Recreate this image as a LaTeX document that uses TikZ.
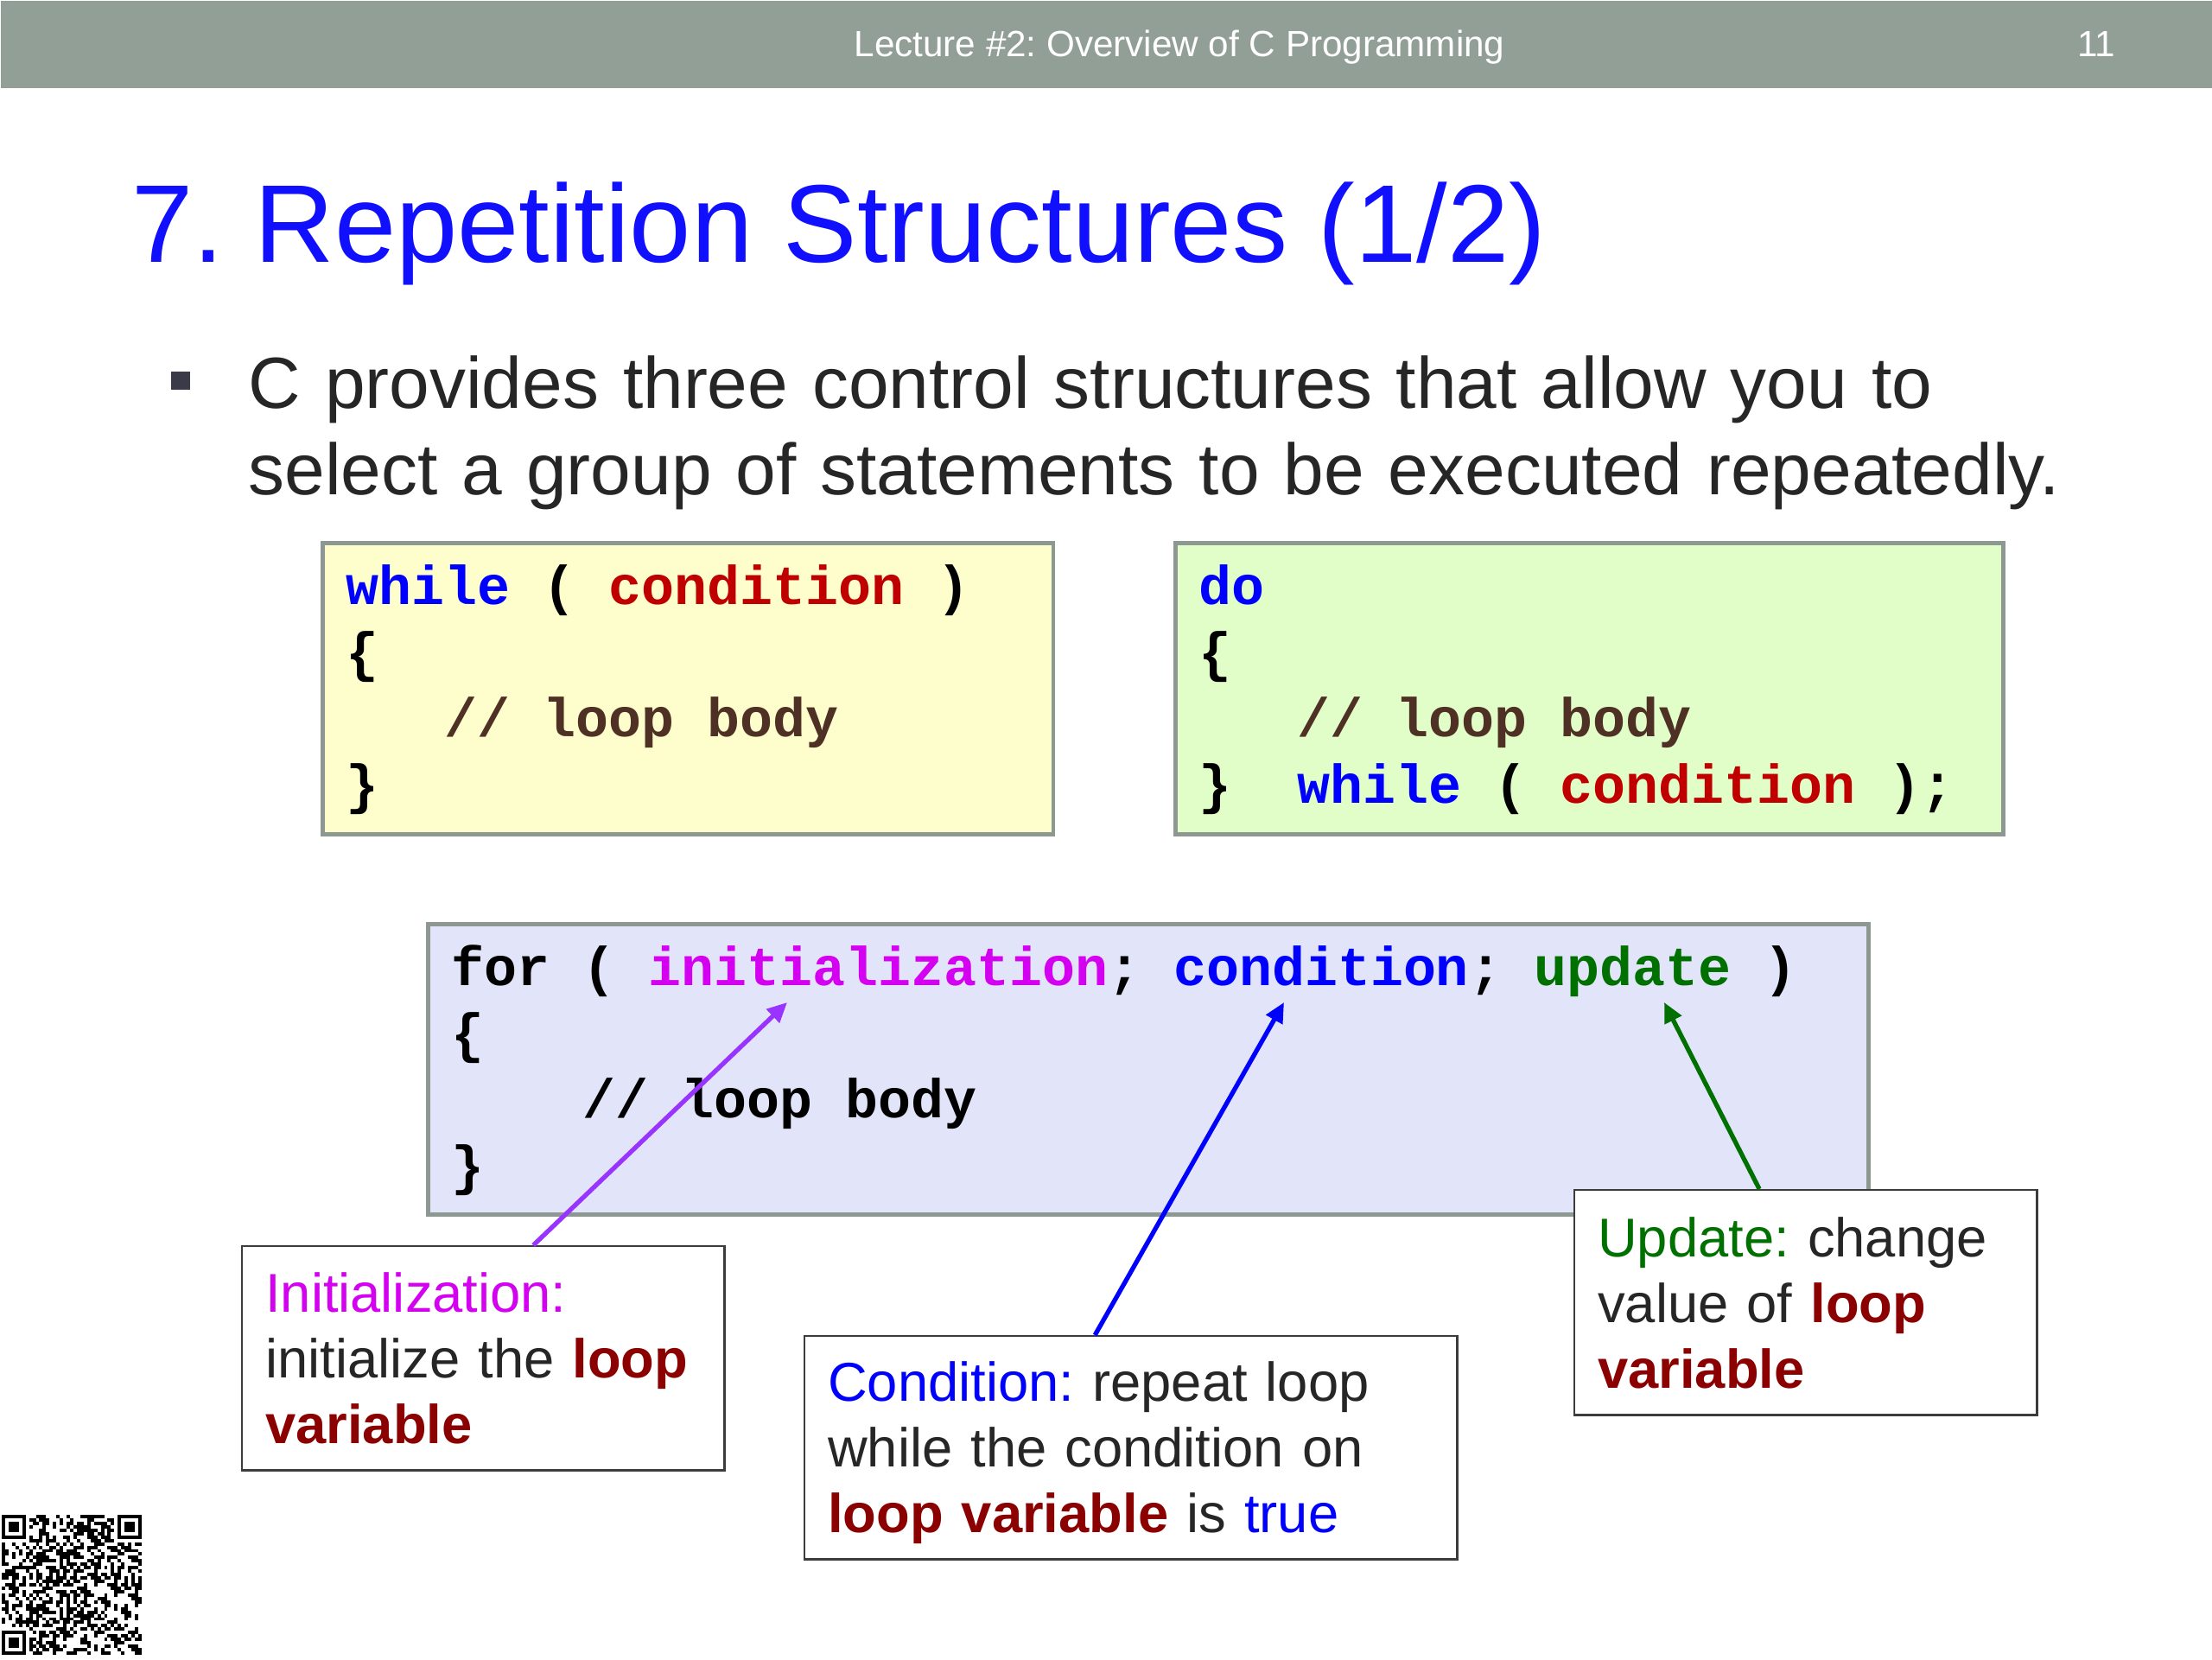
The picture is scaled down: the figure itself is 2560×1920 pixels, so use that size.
\documentclass[tikz,border=0pt]{standalone}
\usepackage{fontspec}
\setmainfont{Liberation Sans}
\setmonofont{Liberation Mono}
\usepackage{xcolor}
\usetikzlibrary{arrows.meta}
\frenchspacing

\definecolor{barGray}{HTML}{929F97}
\definecolor{titleBlue}{HTML}{1010FF}
\definecolor{bodyGray}{HTML}{262626}
\definecolor{bulletGray}{HTML}{3A3A48}
\definecolor{frameGray}{HTML}{8E9892}
\definecolor{noteGray}{HTML}{3C3C3C}
\definecolor{whileFill}{HTML}{FEFECC}
\definecolor{doFill}{HTML}{E2FEC8}
\definecolor{forFill}{HTML}{E2E5FA}
\definecolor{kwBlue}{HTML}{0000FF}
\definecolor{condRed}{HTML}{C00000}
\definecolor{commentBrown}{HTML}{4E3024}
\definecolor{initMagenta}{HTML}{D400F0}
\definecolor{updGreen}{HTML}{007000}
\definecolor{varRed}{HTML}{8B0000}
\definecolor{arrowPurple}{HTML}{9933FF}

\newcommand\ws{\hspace*{0.6em}}

\begin{document}
\begin{tikzpicture}[x=0.01cm, y=-0.01cm, >={Triangle[length=0.23cm, width=0.21cm]},
      codebox/.style={draw=frameGray, line width=1.4pt, anchor=north west, inner xsep=0.27cm,
        inner ysep=0pt, align=left, text height=0.71cm, text=black,
        font=\fontsize{18}{21.8}\selectfont\ttfamily\bfseries},
      notebox/.style={draw=noteGray, fill=white, line width=0.7pt, anchor=north west,
        inner xsep=0.27cm, inner ysep=0pt, align=left, text depth=1.83cm, text=bodyGray,
        font=\fontsize{18}{21.6}\selectfont},
      pointer/.style={->, line width=1.5pt}]
    \useasboundingbox (0,0) rectangle (2560,1920);
    \node[fill=barGray, anchor=north west, inner sep=0, minimum width=25.6cm, minimum height=1.01cm] (bar) at (0,0) {};
    \node[anchor=base, text=white, font=\fontsize{12}{14}\selectfont] (lecture) at (1365,65) {Lecture \#2: Overview of C Programming};
    \node[anchor=base, text=white, font=\fontsize{12}{14}\selectfont] (pageno) at (2426,65) {11};
    \node[anchor=base west, inner sep=0, text=titleBlue, font=\fontsize{36.4}{43}\selectfont] (title) at (152,303) {7. Repetition Structures (1/2)};
    \node[fill=bulletGray, inner sep=0, minimum size=0.21cm] (bullet) at (209,440) {};
    \node[anchor=base west, inner sep=0, text width=22.5cm, align=left, text=bodyGray, font=\fontsize{23.85}{28.5}\selectfont] (intro) at (287,472)
      {C provides three control structures that allow you to\\select a group of statements to be executed repeatedly.};

    \node[codebox, fill=whileFill, text width=7.91cm, text depth=2.66cm] (whilebox) at (371,626)
      {\textcolor{kwBlue}{while}\ws(\ws\textcolor{condRed}{condition}\ws)\\\{\\\ws\ws\ws\textcolor{commentBrown}{//\ws loop\ws body}\\\}};
    \node[codebox, fill=doFill, text width=9.03cm, text depth=2.66cm] (dobox) at (1358,626)
      {\textcolor{kwBlue}{do}\\\{\\\ws\ws\ws\textcolor{commentBrown}{//\ws loop\ws body}\\\}\ws\ws\textcolor{kwBlue}{while}\ws(\ws\textcolor{condRed}{condition}\ws);};
    \node[codebox, fill=forFill, text width=16.12cm, text depth=2.65cm] (forbox) at (493,1067)
      {for\ws(\ws\textcolor{initMagenta}{initialization};\ws\textcolor{kwBlue}{condition};\ws\textcolor{updGreen}{update}\ws)\\\{\\\ws\ws\ws\ws//\ws loop\ws body\\\}};

    \node[notebox, text width=5.04cm, text height=0.76cm] (initnote) at (279,1441)
      {\textcolor{initMagenta}{Initialization:}\\initialize the \textbf{\textcolor{varRed}{loop}}\\\textbf{\textcolor{varRed}{variable}}};
    \node[notebox, text width=7.01cm, text height=0.75cm] (condnote) at (930,1545)
      {\textcolor{kwBlue}{Condition:} repeat loop\\while the condition on\\\textbf{\textcolor{varRed}{loop variable}} is \textcolor{kwBlue}{true}};
    \node[notebox, text width=4.81cm, text height=0.77cm] (updnote) at (1821,1376)
      {\textcolor{updGreen}{Update:} change\\value of \textbf{\textcolor{varRed}{loop}}\\\textbf{\textcolor{varRed}{variable}}};

    \coordinate (initTip) at (911,1160);
    \coordinate (condTip) at (1486,1160);
    \coordinate (updTip) at (1926,1160);
    \draw[pointer, arrowPurple] ([xshift=3.38cm]initnote.north west) -- (initTip);
    \draw[pointer, kwBlue] ([xshift=3.37cm]condnote.north west) -- (condTip);
    \draw[pointer, updGreen] ([xshift=2.15cm]updnote.north west) -- (updTip);

    \foreach \r in {0,...,40}{
      \foreach \c in {0,...,40}{
        \ifnum\numexpr(\r*1103+\c*2207+\r*\c*317+\r*\r*71+\c*\c*131)-((\r*1103+\c*2207+\r*\c*317+\r*\r*71+\c*\c*131)/97)*97\relax<0
          \fill ({2+3.95*\c},{1753+3.95*\r}) rectangle +(3.95,3.95);
        \fi
      }
    }
    \foreach \fc/\fr/\wc/\wr in {0/0/0/0, 34/0/33/0, 0/34/0/33}{
      \fill[white] ({2+3.95*\wc},{1753+3.95*\wr}) rectangle +(31.6,31.6);
      \fill ({2+3.95*\fc},{1753+3.95*\fr}) rectangle +(27.65,27.65);
      \fill[white] ({2+3.95*(\fc+1)},{1753+3.95*(\fr+1)}) rectangle +(19.75,19.75);
      \fill ({2+3.95*(\fc+2)},{1753+3.95*(\fr+2)}) rectangle +(11.85,11.85);
    }
  \end{tikzpicture}
\end{document}
